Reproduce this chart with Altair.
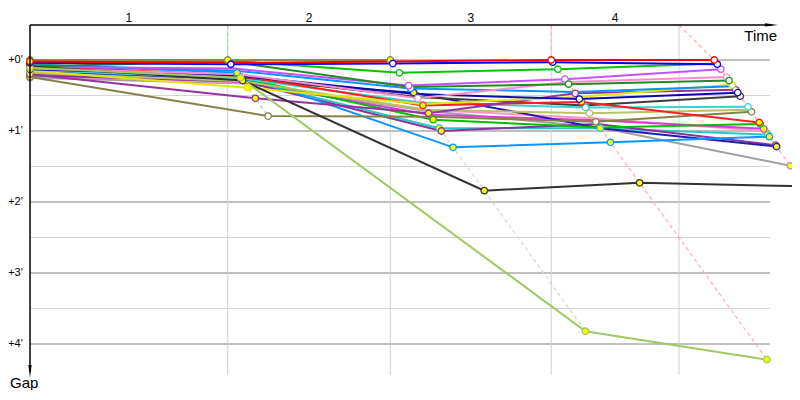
import altair as alt
import pandas as pd

# ---------------- data (times and gaps in minutes) ----------------
lap_leader_times = [0.0, 3.87, 7.05, 10.20, 13.39]   # leader's race time at each lap end
lap_bounds = [0.0, 3.87, 7.05, 10.20, 12.70]          # lap separators on the time axis
lap_labels = ["1", "2", "3", "4"]
lap_line_tops = [3.87, 7.05, 10.20, 12.70]            # where each lap line leaves the time axis
lap_line_colors = ["#a8e0a8", "#d8dcc4", "#ffb4b4", "#ffb4b4"]

gap_ticks = [0, 1, 2, 3, 4]
gap_tick_labels = ["+0'", "+1'", "+2'", "+3'", "+4'"]
gap_minor = [0.5, 1.5, 2.5, 3.5]

car_names = ["Gray", "Pink2", "Magenta", "Cyan2", "Purple2", "Navy2", "SkyBlue2", "Green2",
             "DarkOlive", "LightOlive", "Cyan", "Charcoal", "Red2", "Purple", "Yellow", "Navy",
             "SkyBlue", "Pink", "Violet", "DarkGreen", "Green", "Black", "LightGreen",
             "Olive", "Blue", "Red"]
car_colors = ["#a0a0a0", "#ff96c8", "#dc3cdc", "#28c8c8", "#8c32a0", "#1e1eb4", "#0a96ff", "#00be00",
              "#828246", "#b4c464", "#3cd2d2", "#3c3c3c", "#ff1e1e", "#9632a0", "#e6e600", "#0a0ab4",
              "#0096ff", "#ff8ccc", "#c850ff", "#1e8c1e", "#00c800", "#323232", "#a0c864",
              "#8c8c46", "#0000ff", "#ff0000"]

# gap to leader at laps 0..4 (None = not running)
gap_gray       = [0.25, 0.33, 0.72, 0.95, 1.49]
gap_pink2      = [0.21, 0.32, 0.70, 0.82, 1.00]
gap_magenta    = [0.19, 0.31, 0.77, 0.85, 0.97]
gap_cyan2      = [0.17, 0.27, 0.96, 0.96, 1.05]
gap_purple2    = [0.22, 0.30, 1.00, 0.90, 1.20]
gap_navy2      = [0.16, 0.28, 0.46, 0.96, 1.22]
gap_skyblue2   = [0.06, 0.18, 1.23, 1.16, 1.08]
gap_green2     = [0.10, 0.25, 0.84, 0.95, 0.90]
gap_darkolive  = [0.24, 0.79, 0.80, 0.87, 0.73]
gap_lightolive = [0.18, 0.30, 0.70, 0.75, 0.70]
gap_cyan       = [0.14, 0.26, 0.60, 0.67, 0.66]
gap_charcoal   = [0.11, 0.24, 0.52, 0.64, 0.51]
gap_red2       = [0.08, 0.22, 0.64, 0.59, 0.88]
gap_purple     = [0.20, 0.54, 0.75, 0.47, 0.42]
gap_yellow     = [0.15, 0.39, 0.62, 0.52, 0.35]
gap_navy       = [0.13, 0.22, 0.48, 0.55, 0.46]
gap_skyblue    = [0.07, 0.15, 0.40, 0.45, 0.37]
gap_pink       = [0.12, 0.20, 0.54, 0.31, 0.24]
gap_violet     = [0.10, 0.12, 0.36, 0.27, 0.13]
gap_darkgreen  = [0.09, 0.02, 0.38, 0.34, 0.29]
gap_green      = [0.05, 0.01, 0.18, 0.13, 0.05]
gap_black      = [0.09, 0.29, 1.84, 1.73, 1.78]
gap_lightgreen = [0.11, 0.25, 3.82, 4.22, None]
gap_olive      = [0.00, 0.00, 0.00, None, None]
gap_blue       = [0.04, 0.06, 0.05, 0.03, 0.06]
gap_red        = [0.02, 0.04, 0.02, 0.00, 0.00]

# marker at laps 0..4: y = yellow filled, w = hollow, - = none
mk_gray, mk_pink2, mk_magenta, mk_cyan2 = "y---y", "y---y", "y-y-y", "y-yyy"
mk_purple2, mk_navy2, mk_skyblue2, mk_green2 = "y-y-y", "y-y-y", "yyyyy", "y-y-y"
mk_darkolive, mk_lightolive, mk_cyan, mk_charcoal = "yw-ww", "y--w-", "y--ww", "y---w"
mk_red2, mk_purple, mk_yellow, mk_navy = "y-yyy", "yyyww", "yy--w", "y--ww"
mk_skyblue, mk_pink, mk_violet, mk_darkgreen = "y-w--", "y-w-w", "y-www", "y--ww"
mk_green, mk_black, mk_lightgreen = "y-ww-", "yyyy-", "yyyy-"
mk_olive, mk_blue, mk_red = "yyy--", "ywwww", "y--ww"

car_gaps = [gap_gray, gap_pink2, gap_magenta, gap_cyan2, gap_purple2, gap_navy2, gap_skyblue2,
            gap_green2, gap_darkolive, gap_lightolive, gap_cyan, gap_charcoal, gap_red2, gap_purple,
            gap_yellow, gap_navy, gap_skyblue, gap_pink, gap_violet, gap_darkgreen, gap_green,
            gap_black, gap_lightgreen, gap_olive, gap_blue, gap_red]
car_marks = [mk_gray, mk_pink2, mk_magenta, mk_cyan2, mk_purple2, mk_navy2, mk_skyblue2,
             mk_green2, mk_darkolive, mk_lightolive, mk_cyan, mk_charcoal, mk_red2, mk_purple,
             mk_yellow, mk_navy, mk_skyblue, mk_pink, mk_violet, mk_darkgreen, mk_green,
             mk_black, mk_lightgreen, mk_olive, mk_blue, mk_red]

# ---------------- build tables ----------------
line_rows, point_rows = [], []
for ci, (name, gl, ml) in enumerate(zip(car_names, car_gaps, car_marks)):
    for lap, g in enumerate(gl):
        if g is None:
            continue
        t = 0.0 if lap == 0 else lap_leader_times[lap] + g
        line_rows.append({"car": name, "lap": lap, "time": t, "gap": g, "z": ci})
        m = ml[lap]
        if m != "-":
            point_rows.append({"car": name, "time": t, "gap": g,
                               "fill": "#ffff00" if m == "y" else "#ffffff", "z": ci})
lines_df = pd.DataFrame(line_rows)
points_df = pd.DataFrame(point_rows)

# scale geometry (51.1 px per minute on x, 71 px per minute on y)
W, H = 784, 376
t0 = -22 / 51.1
t1 = t0 + W / 51.1
g0 = -52 / 71
g1 = g0 + H / 71
g_top, g_bottom = -0.493, 4.437
t_grid_end = 14.48

lap_rows = []
for k in range(1, 5):
    last = max(g[k] for g in car_gaps if g[k] is not None)
    pts = [(lap_line_tops[k - 1], g_top), (lap_leader_times[k], 0.0),
           (lap_leader_times[k] + last, last)]
    for s, (t, g) in enumerate(pts):
        lap_rows.append({"lap": k, "seq": s, "time": t, "gap": g, "col": lap_line_colors[k - 1]})
laplines_df = pd.DataFrame(lap_rows)

hgrid_df = pd.DataFrame(
    [{"gap": g, "t0": 0.0, "t1": t_grid_end, "col": "#808080"} for g in gap_ticks] +
    [{"gap": g, "t0": 0.0, "t1": t_grid_end, "col": "#d4d4d4"} for g in gap_minor])
vgrid_df = pd.DataFrame([{"time": t, "g0": g_top, "g1": g_bottom} for t in lap_bounds[1:]])

lab_df = pd.DataFrame({"label": lap_labels,
                       "time": [(a + b) / 2 for a, b in zip(lap_bounds[:-1], lap_bounds[1:])],
                       "gap": [-0.592] * 4})
ytick_df = pd.DataFrame({"label": gap_tick_labels, "gap": gap_ticks, "time": [-0.14] * 5})

xs = alt.Scale(domain=[t0, t1], nice=False, zero=False)
ys = alt.Scale(domain=[g0, g1], nice=False, zero=False, reverse=True)
cs = alt.Scale(domain=car_names, range=car_colors)
FONT = "Liberation Sans, Arial, sans-serif"

X = lambda f="time": alt.X(f"{f}:Q", scale=xs, axis=None)
Y = lambda f="gap": alt.Y(f"{f}:Q", scale=ys, axis=None)

hgrid = alt.Chart(hgrid_df).mark_rule(strokeWidth=1).encode(
    x=X("t0"), x2="t1", y=Y(), color=alt.Color("col:N", scale=None))
vgrid = alt.Chart(vgrid_df).mark_rule(strokeWidth=1, color="#d0d0d0").encode(
    x=X(), y=Y("g0"), y2="g1")
laplines = alt.Chart(laplines_df).mark_line(strokeWidth=1.3, strokeDash=[4, 3], clip=True).encode(
    x=X(), y=Y(), detail="lap:N", order="seq:Q", color=alt.Color("col:N", scale=None))
cars = alt.Chart(lines_df).mark_line(strokeWidth=2, clip=True).encode(
    x=X(), y=Y(), color=alt.Color("car:N", scale=cs, legend=None), order="lap:Q")
markers = alt.Chart(points_df).mark_point(shape="circle", filled=True, size=42, strokeWidth=1.3,
                                          opacity=1, clip=True).encode(
    x=X(), y=Y(), fill=alt.Fill("fill:N", scale=None),
    stroke=alt.Stroke("car:N", scale=cs, legend=None), order="z:Q")

axis_df = pd.DataFrame({"t0": [0.0, 0.0], "t1": [14.52, 0.0],
                        "g0": [g_top, g_top], "g1": [g_top, 4.39]})
axes = alt.Chart(axis_df).mark_rule(color="black", strokeWidth=1.5).encode(
    x=X("t0"), x2="t1", y=Y("g0"), y2="g1")
arrow_r = alt.Chart(pd.DataFrame({"time": [14.51], "gap": [g_top]})).mark_point(
    shape="M-1,-0.25L1,0L-1,0.25Z", filled=True, color="black", size=169, opacity=1).encode(x=X(), y=Y())
arrow_d = alt.Chart(pd.DataFrame({"time": [0.0], "gap": [4.387]})).mark_point(
    shape="M-0.25,-1L0.25,-1L0,1Z", filled=True, color="black", size=169, opacity=1).encode(x=X(), y=Y())

lap_text = alt.Chart(lab_df).mark_text(fontSize=12, font=FONT, color="black", baseline="middle").encode(
    x=X(), y=Y(), text="label:N")
ytext = alt.Chart(ytick_df).mark_text(fontSize=11, font=FONT, color="black", align="right",
                                      baseline="middle").encode(x=X(), y=Y(), text="label:N")
title_df = pd.DataFrame({"label": ["Time", "Gap"], "time": [14.62, -0.39], "gap": [-0.268, 4.62]})
time_text = alt.Chart(title_df.iloc[[0]]).mark_text(fontSize=15, font=FONT, color="black",
                                                    align="right", baseline="alphabetic").encode(
    x=X(), y=Y(), text="label:N")
gap_text = alt.Chart(title_df.iloc[[1]]).mark_text(fontSize=15, font=FONT, color="black",
                                                   align="left", baseline="alphabetic").encode(
    x=X(), y=Y(), text="label:N")

chart = alt.layer(hgrid, vgrid, laplines, cars, markers, axes, arrow_r, arrow_d,
                  lap_text, ytext, time_text, gap_text).properties(
    width=W, height=H, padding={"left": 0, "top": 0, "right": 0, "bottom": 6},
    autosize=alt.AutoSizeParams(type="none"),
    background="white").configure_view(stroke=None)

chart.save("out.html", embed_options={"renderer": "svg", "actions": False})
